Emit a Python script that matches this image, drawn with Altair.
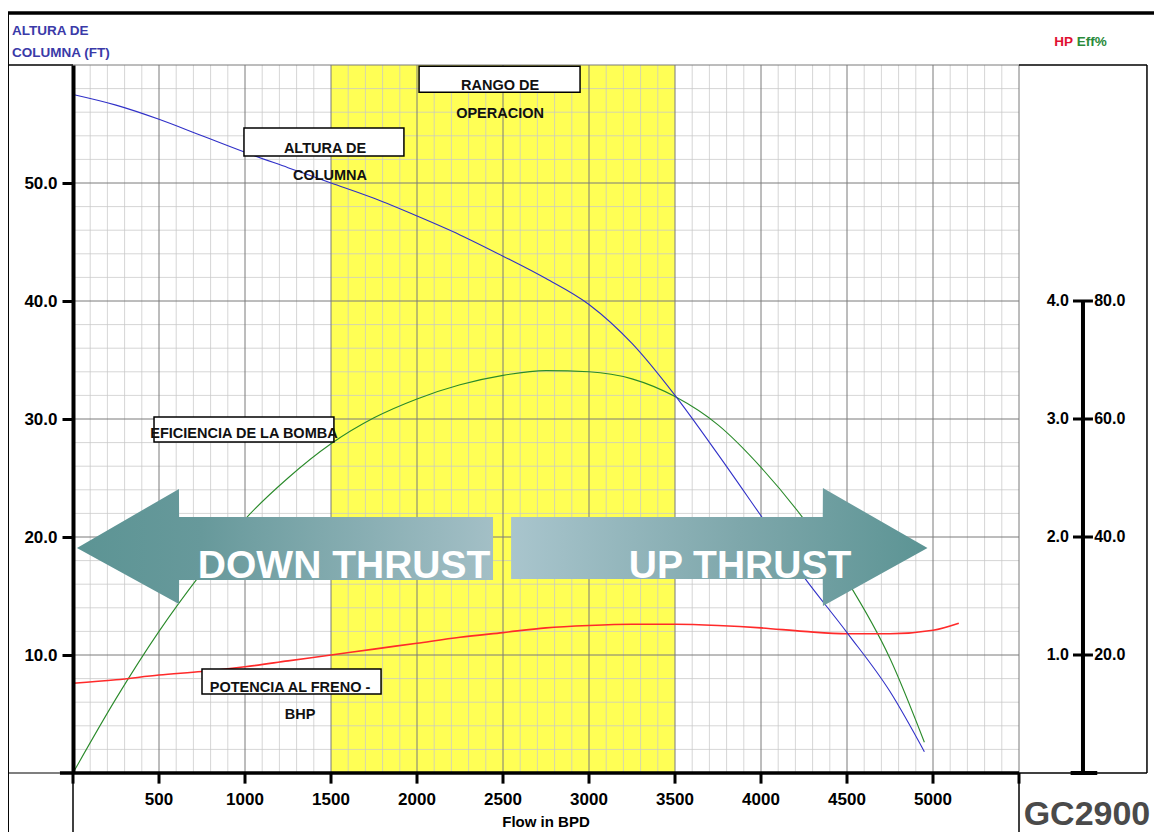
import altair as alt
import pandas as pd

FONT = "Liberation Sans, Arial, sans-serif"

# ---------------- data ----------------
flow_pts = [0, 250, 500, 750, 1000, 1250, 1500, 1750, 2000, 2250, 2500, 2750,
            3000, 3250, 3500, 3750, 4000, 4250, 4500, 4750, 4950]
head_ft = [57.5, 56.6, 55.4, 54.0, 52.6, 51.3, 50.0, 48.7, 47.2, 45.6, 43.8, 41.9,
           39.7, 36.4, 32.0, 27.0, 21.8, 16.6, 11.9, 6.9, 1.8]
eff_pct = [0.0, 12.6, 24.0, 34.0, 43.0, 50.0, 55.8, 60.2, 63.4, 65.8, 67.4, 68.2,
           68.0, 66.8, 63.8, 59.0, 51.8, 43.0, 32.6, 19.4, 5.2]
hp_flow = [0, 250, 500, 750, 1000, 1250, 1500, 1750, 2000, 2250, 2500, 2750,
           3000, 3250, 3500, 3750, 4000, 4250, 4500, 4750, 5000, 5150]
hp_val = [0.76, 0.79, 0.83, 0.86, 0.90, 0.95, 1.00, 1.05, 1.10, 1.15, 1.19, 1.23,
          1.25, 1.26, 1.26, 1.25, 1.23, 1.20, 1.18, 1.18, 1.21, 1.27]

x_ticks = [500, 1000, 1500, 2000, 2500, 3000, 3500, 4000, 4500, 5000]
y_ticks = [10, 20, 30, 40, 50]
hp_ticks = [1.0, 2.0, 3.0, 4.0]
eff_ticks = [20.0, 40.0, 60.0, 80.0]

X_DOM = [0, 5500]
Y_DOM = [0, 60]
HP_DOM = [0, 6]
EFF_DOM = [0, 120]

# operating range
band_lo, band_hi = [1500], [3500]

# annotation boxes (flow, head units)
box_x1 = [2012, 994, 471, 750]
box_x2 = [2948, 1924, 1517, 1791]
box_y1 = [59.9, 54.66, 30.17, 8.81]
box_y2 = [57.7, 52.29, 28.05, 6.69]
ann_text = ["RANGO DE", "OPERACION", "ALTURA DE", "COLUMNA", "EFICIENCIA DE LA BOMBA",
            "POTENCIA AL FRENO -", "BHP"]
ann_x = [2483, 2483, 1465, 1494, 994, 1262, 1320]
ann_y = [58.2, 55.85, 52.9, 50.6, 28.75, 7.2, 4.95]

# thrust arrows (flow, head units)
down_x = [23, 616, 617, 2442]
down_top = [19.07, 24.07, 21.69, 21.69]
down_bot = [19.07, 14.32, 16.36, 16.36]
up_x = [2547, 4359, 4360, 4968]
up_top = [21.69, 21.69, 24.15, 19.07]
up_bot = [16.45, 16.45, 14.15, 19.07]
thrust_text = ["DOWN  THRUST", "UP THRUST"]
thrust_x = [1576, 3878]
thrust_y = [16.5, 16.5]

# titles and labels outside the plot
title_text = ["ALTURA DE", "COLUMNA (FT)", "HP", "Eff%"]
title_x = [-355, -355, 5814, 5836]
title_y = [62.9, 61.0, 61.95, 61.95]
title_col = ["#3a3aa8", "#3a3aa8", "#e01030", "#2a8a3a"]
title_align = ["left", "left", "right", "left"]
model_text = ["GC2900"]
model_x = [5895]
model_y = [-4.4]
flow_title = ["Flow in BPD"]
flow_title_x = [2750]
flow_title_y = [-4.15]

# ---------------- helpers ----------------
def xq(field):
    return alt.X(field, type="quantitative", scale=alt.Scale(domain=X_DOM), axis=None)

def yq(field, dom=Y_DOM):
    return alt.Y(field, type="quantitative", scale=alt.Scale(domain=dom), axis=None)

# ---------------- layers ----------------
band = alt.Chart(pd.DataFrame({"a": band_lo, "b": band_hi, "y0": [0], "y1": [60]})).mark_rect(
    color="#ffff55").encode(x=xq("a"), x2="b", y=yq("y0"), y2="y1")

vminor = [v for v in range(100, 5500, 100) if v % 500]
hminor = [v for v in range(2, 60, 2) if v % 10]
vmajor = list(range(500, 5501, 500))
hmajor = list(range(10, 61, 10))

grid_v_minor = alt.Chart(pd.DataFrame({"x": vminor, "y0": 0, "y1": 60})).mark_rule(
    color="#c8c8c8", strokeWidth=1, opacity=0.75).encode(x=xq("x"), y=yq("y0"), y2="y1")
grid_h_minor = alt.Chart(pd.DataFrame({"y": hminor, "x0": 0, "x1": 5500})).mark_rule(
    color="#c8c8c8", strokeWidth=1, opacity=0.75).encode(y=yq("y"), x=xq("x0"), x2="x1")
grid_v_major = alt.Chart(pd.DataFrame({"x": vmajor, "y0": 0, "y1": 60})).mark_rule(
    color="#7a7a7a", strokeWidth=1).encode(x=xq("x"), y=yq("y0"), y2="y1")
grid_h_major = alt.Chart(pd.DataFrame({"y": hmajor, "x0": 0, "x1": 5500})).mark_rule(
    color="#7a7a7a", strokeWidth=1).encode(y=yq("y"), x=xq("x0"), x2="x1")

head_line = alt.Chart(pd.DataFrame({"q": flow_pts, "h": head_ft})).mark_line(
    color="#3030c8", strokeWidth=1.1, interpolate="monotone").encode(
    x=xq("q"),
    y=alt.Y("h:Q", scale=alt.Scale(domain=Y_DOM),
            axis=alt.Axis(values=y_ticks, format=".1f", labelFont=FONT, labelFontSize=17,
                          labelFontWeight="bold", labelColor="black", tickSize=11,
                          tickWidth=3, tickColor="black", domainColor="black", domainWidth=4,
                          labelPadding=5, grid=False, title=None, zindex=1)))
eff_line = alt.Chart(pd.DataFrame({"q": flow_pts, "e": eff_pct})).mark_line(
    color="#2a8a2a", strokeWidth=1.1, interpolate="monotone").encode(x=xq("q"), y=yq("e", EFF_DOM))
hp_line = alt.Chart(pd.DataFrame({"q": hp_flow, "p": hp_val})).mark_line(
    color="#ff2a2a", strokeWidth=1.6, interpolate="monotone").encode(x=xq("q"), y=yq("p", HP_DOM))

# frame / decoration segments (flow, head units)
frame = pd.DataFrame({
    "x0": [-378, -378, -378, -378, -76, 0, 5500, 5500, 6244, 5500, 5872, 5814, 5814, 5814, 5814, 5800],
    "x1": [6400, -378, 0, -76, 5500, 0, 5500, 6244, 6244, 6244, 5872, 5930, 5930, 5930, 5930, 5955],
    "y0": [64.4, 64.4, 60, 0, 0, 0, 0, 60, 60, 0, 40, 10, 20, 30, 40, 0],
    "y1": [64.4, -8, 60, 0, 0, -8, -8, 60, 0, 0, 0, 10, 20, 30, 40, 0],
    "w": [3.5, 2, 1.5, 1.2, 3.5, 1.5, 1.5, 1.5, 1.5, 1.5, 4, 3, 3, 3, 3, 4],
})
frame_layer = alt.Chart(frame).mark_rule(color="black").encode(
    x=xq("x0"), x2="x1", y=yq("y0"), y2="y1", strokeWidth=alt.StrokeWidth("w:Q", scale=None))

# x axis ticks and labels
xtick_df = pd.DataFrame({"v": [0] + x_ticks + [5500], "y0": 0, "y1": -0.9})
x_tick_layer = alt.Chart(xtick_df).mark_rule(color="black", strokeWidth=3).encode(
    x=xq("v"), y=yq("y0"), y2="y1")
x_lab_layer = alt.Chart(pd.DataFrame({"v": x_ticks, "y": -2.3})).mark_text(
    font=FONT, fontSize=17, fontWeight="bold", color="black", align="center", baseline="middle"
).encode(x=xq("v"), y=yq("y"), text=alt.Text("v:Q", format="d"))
x_title_layer = alt.Chart(pd.DataFrame({"x": flow_title_x, "y": flow_title_y, "t": flow_title})).mark_text(
    font=FONT, fontSize=15, fontWeight="bold", color="black", align="center", baseline="middle"
).encode(x=xq("x"), y=yq("y"), text="t:N")

# right axis labels (through HP and Eff scales)
hp_lab = alt.Chart(pd.DataFrame({"v": hp_ticks, "x": 5790})).mark_text(
    font=FONT, fontSize=16, fontWeight="bold", align="right", baseline="middle", color="black"
).encode(x=xq("x"), y=yq("v", HP_DOM), text=alt.Text("v:Q", format=".1f"))
eff_lab = alt.Chart(pd.DataFrame({"v": eff_ticks, "x": 5937})).mark_text(
    font=FONT, fontSize=16, fontWeight="bold", align="left", baseline="middle", color="black"
).encode(x=xq("x"), y=yq("v", EFF_DOM), text=alt.Text("v:Q", format=".1f"))

# annotation boxes
boxes = alt.Chart(pd.DataFrame({"a": box_x1, "b": box_x2, "c": box_y1, "d": box_y2})).mark_rect(
    fill="white", stroke="black", strokeWidth=1.5).encode(x=xq("a"), x2="b", y=yq("c"), y2="d")
ann = alt.Chart(pd.DataFrame({"x": ann_x, "y": ann_y, "t": ann_text})).mark_text(
    font=FONT, fontSize=14.5, fontWeight="bold", color="#111111", align="center", baseline="middle"
).encode(x=xq("x"), y=yq("y"), text="t:N")

# arrows
down_grad = alt.Gradient(gradient="linear", x1=0, x2=1, y1=0, y2=0, stops=[
    alt.GradientStop(color="#5c9494", offset=0), alt.GradientStop(color="#67999b", offset=0.3),
    alt.GradientStop(color="#a3bfc6", offset=1)])
up_grad = alt.Gradient(gradient="linear", x1=0, x2=1, y1=0, y2=0, stops=[
    alt.GradientStop(color="#a9c5cd", offset=0), alt.GradientStop(color="#7ea7ab", offset=0.55),
    alt.GradientStop(color="#5c9494", offset=1)])
down_arrow = alt.Chart(pd.DataFrame({"x": down_x, "t": down_top, "b": down_bot})).mark_area(
    color=down_grad, interpolate="linear").encode(x=xq("x"), y=yq("t"), y2="b")
up_arrow = alt.Chart(pd.DataFrame({"x": up_x, "t": up_top, "b": up_bot})).mark_area(
    color=up_grad, interpolate="linear").encode(x=xq("x"), y=yq("t"), y2="b")
thrust = alt.Chart(pd.DataFrame({"x": thrust_x, "y": thrust_y, "t": thrust_text})).mark_text(
    font=FONT, fontSize=39, fontWeight="bold", color="white", align="center",
    baseline="alphabetic").encode(x=xq("x"), y=yq("y"), text="t:N")

# titles
tdf = pd.DataFrame({"x": title_x, "y": title_y, "t": title_text, "c": title_col, "a": title_align})
t_left = alt.Chart(tdf[tdf["a"] == "left"]).mark_text(
    font=FONT, fontWeight="bold", fontSize=13.5, align="left", baseline="middle").encode(
    x=xq("x"), y=yq("y"), text="t:N", color=alt.Color("c:N", scale=None))
t_right = alt.Chart(tdf[tdf["a"] == "right"]).mark_text(
    font=FONT, fontWeight="bold", fontSize=13.5, align="right", baseline="middle").encode(
    x=xq("x"), y=yq("y"), text="t:N", color=alt.Color("c:N", scale=None))
t_gc = alt.Chart(pd.DataFrame({"x": model_x, "y": model_y, "t": model_text})).mark_text(
    font=FONT, fontWeight="bold", fontSize=34, align="center", baseline="alphabetic",
    color="#4a4a4a").encode(x=xq("x"), y=yq("y"), text="t:N")

chart = alt.layer(
    band, grid_v_minor, grid_h_minor, grid_v_major, grid_h_major,
    eff_line, hp_line, head_line,
    boxes, ann, down_arrow, up_arrow, thrust,
    frame_layer, x_tick_layer, x_lab_layer, x_title_layer,
    hp_lab, eff_lab, t_left, t_right, t_gc,
).resolve_scale(y="independent").properties(
    width=946, height=708,
    autosize=alt.AutoSizeParams(type="none"),
    padding={"left": 65, "top": 57, "right": 135, "bottom": 59},
    background="white",
).configure_view(stroke=None)

chart.save("out.html", embed_options={"renderer": "svg", "actions": False})
